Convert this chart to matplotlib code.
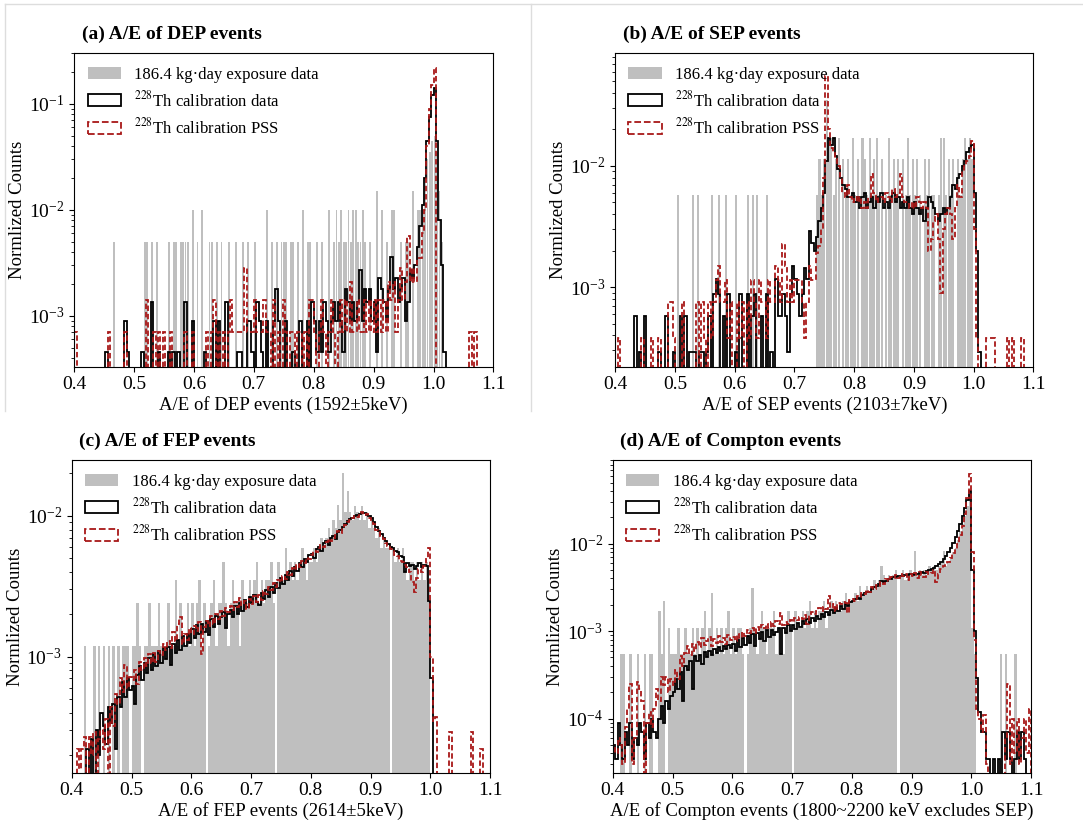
import numpy as np
import matplotlib
matplotlib.use("Agg")
import matplotlib.pyplot as plt
from matplotlib.patches import Patch
from matplotlib.lines import Line2D
from matplotlib.ticker import FormatStrFormatter, MultipleLocator

plt.rcParams['font.family'] = ['Liberation Serif', 'DejaVu Serif']
plt.rcParams['mathtext.fontset'] = 'stix'

# A/E bins from 0.4 to 1.1, width 0.004 (175 bins, one row = 0.1 in A/E)
edges = np.linspace(0.4, 1.1, 176)

# all counts below in units of 1e-4 (normalized counts per bin)
# ---- (a) DEP ----
dep_data = [
    0, 0, 0, 0, 0, 0, 0, 0, 0, 0, 0, 0, 0, 0, 0, 0, 50, 0, 0, 0, 0, 0, 0, 0, 0,
    0, 0, 0, 0, 50, 50, 0, 50, 0, 50, 0, 0, 0, 0, 50, 0, 50, 50, 0, 50, 50, 50, 50, 0, 100,
    0, 50, 0, 100, 0, 0, 50, 50, 0, 50, 0, 50, 0, 0, 50, 0, 0, 50, 0, 0, 50, 0, 50, 0, 0,
    50, 0, 0, 0, 0, 100, 0, 50, 0, 50, 0, 50, 50, 50, 0, 50, 50, 0, 50, 0, 100, 0, 50, 50, 0,
    0, 50, 0, 50, 0, 0, 100, 0, 50, 100, 50, 100, 50, 50, 100, 50, 100, 100, 50, 50, 100, 50, 0, 50, 0,
    0, 150, 0, 100, 0, 50, 0, 100, 100, 0, 0, 50, 0, 50, 50, 0, 150, 0, 100, 100, 100, 200, 300, 350, 450,
    500, 350, 150, 50, 0, 0, 0, 0, 0, 0, 0, 0, 0, 0, 0, 0, 0, 0, 0, 0, 0, 0, 0, 0, 0,
]
dep_cal = [
    0, 0, 0, 0, 0, 0, 0, 0, 0, 0, 0, 0, 0, 4.5, 0, 0, 0, 0, 0, 0, 0, 9, 4.5, 0, 0,
    0, 0, 0, 4.5, 0, 0, 0, 13.5, 0, 0, 4.5, 0, 0, 0, 4.5, 0, 4.5, 0, 4.5, 0, 0, 13.5, 0, 0, 9,
    0, 0, 0, 0, 4.5, 0, 0, 0, 9, 0, 9, 0, 0, 13.5, 0, 0, 0, 0, 4.5, 4.5, 0, 0, 9, 9, 4.5,
    0, 13.5, 9, 4.5, 0, 9, 0, 0, 9, 18, 9, 0, 0, 9, 0, 0, 4.5, 0, 0, 9, 0, 0, 9, 0, 13.5,
    9, 4.5, 9, 4.5, 13.5, 9, 4.5, 9, 13.5, 9, 13.5, 9, 4.5, 18, 13.5, 9, 13.5, 9, 13.5, 27, 9, 18, 13.5, 18, 9,
    13.5, 4.5, 22.5, 18, 13.5, 9, 18, 36, 18, 22.5, 13.5, 18, 22.5, 9, 13.5, 27, 22.5, 30, 45, 70, 110, 200, 450, 750, 1200,
    1400, 450, 80, 30, 4.5, 0, 0, 0, 0, 0, 0, 0, 0, 0, 0, 0, 0, 0, 0, 0, 0, 0, 0, 0, 0,
]
dep_pss = [
    7, 0, 0, 0, 0, 0, 0, 0, 0, 0, 0, 0, 0, 0, 7, 0, 0, 0, 0, 0, 0, 7, 0, 0, 0,
    0, 0, 0, 0, 0, 14, 0, 0, 7, 0, 7, 0, 7, 0, 0, 7, 0, 0, 0, 0, 0, 7, 0, 0, 7,
    0, 0, 0, 0, 0, 7, 0, 7, 14, 0, 7, 0, 7, 0, 7, 14, 7, 7, 7, 7, 7, 28, 7, 7, 7,
    14, 7, 7, 7, 14, 7, 7, 0, 14, 0, 7, 0, 14, 7, 0, 7, 7, 0, 7, 7, 0, 7, 0, 14, 14,
    7, 0, 7, 14, 7, 0, 7, 14, 7, 0, 7, 14, 7, 14, 7, 21, 7, 7, 14, 7, 7, 14, 7, 14, 7,
    14, 7, 14, 7, 14, 7, 21, 14, 21, 7, 14, 28, 14, 21, 56, 21, 28, 21, 35, 35, 60, 100, 400, 900, 1500,
    2200, 0, 0, 0, 0, 0, 0, 0, 0, 0, 0, 0, 0, 0, 0, 7, 0, 7, 0, 0, 0, 0, 0, 0, 0,
]

# ---- (b) SEP ----
sep_data = [
    0, 0, 0, 0, 0, 0, 0, 0, 0, 0, 0, 0, 0, 0, 0, 0, 0, 0, 0, 0, 0, 0, 0, 0, 0,
    0, 57, 0, 0, 0, 0, 0, 57, 0, 57, 0, 0, 0, 0, 0, 57, 0, 0, 57, 0, 0, 57, 0, 0, 0,
    57, 0, 0, 0, 0, 57, 0, 57, 0, 57, 0, 0, 0, 57, 0, 0, 0, 0, 0, 0, 0, 0, 0, 0, 0,
    0, 0, 0, 0, 0, 0, 0, 0, 0, 57, 114, 57, 114, 350, 171, 171, 57, 114, 171, 0, 114, 57, 114, 57, 171,
    57, 114, 0, 171, 114, 57, 171, 57, 114, 171, 57, 114, 0, 57, 171, 57, 114, 57, 114, 0, 114, 57, 171, 57, 114,
    57, 114, 57, 0, 114, 57, 114, 57, 57, 0, 57, 171, 171, 57, 114, 57, 114, 0, 114, 57, 114, 171, 114, 171, 114,
    0, 0, 0, 0, 0, 0, 0, 0, 0, 0, 0, 0, 0, 0, 0, 0, 0, 0, 0, 0, 0, 0, 0, 0, 0,
]
sep_cal = [
    0, 0, 0, 0, 0, 0, 0, 0, 5.8, 0, 2.9, 0, 5.8, 0, 0, 0, 0, 0, 2.9, 0, 0, 5.8, 0, 0, 2.9,
    0, 0, 5.8, 0, 5.8, 0, 2.9, 2.9, 2.9, 0, 2.9, 2.9, 0, 2.9, 5.8, 0, 8.7, 11.6, 8.7, 0, 5.8, 0, 8.7, 0, 0,
    2.9, 0, 8.7, 0, 0, 8.7, 0, 5.8, 8.7, 0, 0, 5.8, 0, 8.7, 0, 2.9, 0, 11.6, 5.8, 5.8, 8.7, 5.8, 2.9, 8.7, 15,
    11.6, 8.7, 5.8, 8.7, 14.5, 11.6, 29, 23, 20, 26, 35, 45, 60, 110, 170, 150, 170, 120, 95, 80, 70, 65, 55, 55, 60,
    50, 55, 45, 55, 60, 45, 50, 55, 45, 55, 50, 60, 45, 50, 45, 55, 60, 50, 55, 45, 50, 45, 55, 45, 40,
    50, 45, 40, 45, 35, 45, 55, 50, 45, 40, 35, 40, 45, 40, 45, 55, 70, 65, 80, 85, 100, 110, 130, 140, 150,
    60, 20, 2.9, 0, 0, 0, 0, 0, 0, 0, 0, 0, 0, 0, 0, 0, 0, 0, 0, 0, 0, 0, 0, 0, 0,
]
sep_pss = [
    0, 3.8, 0, 0, 0, 0, 0, 0, 0, 0, 0, 3.8, 0, 0, 0, 3.8, 0, 0, 3.8, 0, 0, 0, 7.6, 7.6, 3.8,
    0, 0, 0, 7.6, 0, 0, 0, 0, 0, 7.6, 0, 7.6, 3.8, 0, 7.6, 3.8, 7.6, 11.4, 15, 7.6, 7.6, 11.4, 3.8, 7.6, 0,
    0, 7.6, 3.8, 7.6, 0, 7.6, 3.8, 11.4, 7.6, 3.8, 11.4, 7.6, 7.6, 3.8, 11.4, 7.6, 7.6, 15, 11.4, 7.6, 22.8, 15, 7.6, 11.4, 7.6,
    11.4, 11.4, 11.4, 7.6, 3.8, 7.6, 15, 11.4, 11.4, 19, 22, 30, 80, 550, 200, 140, 130, 115, 100, 80, 60, 55, 70, 55, 50,
    55, 50, 55, 45, 50, 45, 55, 85, 60, 50, 55, 55, 50, 60, 55, 50, 65, 55, 60, 85, 55, 50, 50, 45, 50,
    45, 55, 50, 45, 50, 45, 20, 25, 35, 40, 25, 9, 30, 40, 45, 40, 25, 45, 70, 55, 90, 100, 110, 120, 160,
    30, 3.8, 0, 0, 0, 3.8, 3.8, 3.8, 3.8, 0, 0, 0, 0, 0, 3.8, 0, 3.8, 0, 0, 0, 3.8, 0, 0, 0, 0,
]

# ---- (c) FEP ----
fep_data = [
    0, 0, 0, 0, 0, 12, 0, 0, 0, 12, 0, 12, 0, 12, 0, 12, 0, 12, 0, 12, 0, 12, 12, 12, 0,
    12, 12, 24, 12, 0, 12, 12, 24, 12, 12, 12, 24, 12, 12, 12, 24, 12, 12, 35, 12, 24, 12, 12, 24, 12,
    24, 12, 24, 35, 12, 24, 0, 12, 24, 35, 12, 24, 24, 47, 24, 12, 24, 35, 24, 24, 12, 35, 24, 24, 35,
    24, 35, 47, 24, 35, 24, 35, 35, 47, 24, 0, 47, 35, 35, 59, 35, 47, 35, 47, 35, 47, 59, 47, 35, 47,
    47, 59, 47, 59, 70, 59, 70, 82, 70, 94, 82, 120, 94, 200, 106, 150, 106, 94, 118, 106, 94, 118, 94, 106, 82,
    94, 82, 70, 82, 59, 70, 59, 59, 0, 59, 47, 59, 47, 59, 47, 35, 47, 47, 35, 47, 35, 47, 35, 47, 35,
    0, 0, 0, 0, 0, 0, 0, 0, 0, 0, 0, 0, 0, 0, 0, 0, 0, 0, 0, 0, 0, 0, 0, 0, 0,
]
fep_cal = [
    0, 0, 0, 0, 0, 0, 2.2, 1.2, 2.6, 1.3, 3.0, 2.0, 4.0, 3.2, 2.4, 4.4, 3.4, 4.6, 2.2, 5.2, 4.4, 6.6, 5.2, 7.0, 5.8,
    6.2, 4.6, 7.4, 8.6, 6.8, 9.0, 7.6, 9.8, 8.0, 10.4, 8.6, 11.0, 9.0, 11.6, 9.6, 11.8, 8.8, 12.4, 10.6, 13.2, 11.2, 14.0, 12.0, 14.6, 12.6,
    15.8, 13.6, 16.8, 14.6, 17.2, 15.0, 17.8, 14.2, 18.6, 16.2, 19.4, 17.0, 19.0, 20.8, 16.0, 20.2, 21.6, 19.0, 22.8, 20.2, 24.2, 21.0, 25.4, 22.6, 26.4,
    24.0, 27.4, 24.6, 23.4, 28.2, 25.8, 29.8, 26.6, 31.4, 28.4, 33.4, 30.8, 36.0, 32.6, 38.2, 35.2, 40.8, 37.2, 43.6, 40.6, 46.6, 43.2, 49.6, 46.8, 52.6,
    54, 50, 58, 60, 56, 64, 66, 62, 70, 72, 68, 77, 80, 84, 88, 92, 95, 97, 99, 101, 103, 105, 104, 102, 99,
    96, 90, 84, 78, 74, 70, 66, 63, 60, 59, 56, 55, 52, 51, 40, 46, 44, 45, 42, 44, 46, 43, 45, 44, 25,
    7, 0, 0, 0, 0, 0, 0, 0, 0, 0, 0, 0, 0, 0, 0, 0, 0, 0, 0, 0, 0, 0, 0, 0, 0,
]
fep_pss = [
    0, 0, 2.2, 1.6, 2.2, 2.7, 1.4, 2.7, 2.0, 2.9, 1.4, 2.6, 3.0, 2.2, 3.6, 1.2, 4.4, 3.2, 5.4, 4.6, 7.0, 5.6, 8.7, 6.0, 7.2,
    6.8, 8.0, 6.4, 9.2, 8.0, 9.8, 8.6, 10.4, 9.0, 10.6, 9.2, 11.0, 10.2, 12.4, 11.2, 13.0, 11.6, 15.0, 13.0, 17.0, 19.0, 12.4, 14.6, 13.2, 16.0,
    14.4, 16.6, 15.2, 17.6, 10.5, 16.2, 18.0, 16.6, 19.4, 17.0, 20.0, 18.4, 21.2, 19.6, 22.2, 20.6, 23.0, 21.4, 24.4, 22.6, 26.0, 23.4, 25.0, 21.8, 25.6,
    23.6, 26.8, 24.6, 27.6, 25.4, 29.2, 27.8, 31.4, 29.6, 33.4, 31.0, 35.2, 33.8, 37.6, 35.6, 39.8, 38.2, 42.6, 41.0, 45.4, 43.6, 48.0, 46.2, 50.4, 49.0,
    53, 56, 55, 59, 62, 60, 65, 68, 66, 70, 73, 78, 76, 82, 86, 90, 94, 96, 100, 98, 104, 106, 101, 103, 97,
    93, 88, 80, 77, 72, 68, 64, 61, 58, 56, 53, 52, 48, 47, 45, 43, 40, 34, 29, 36, 42, 40, 44, 50, 59,
    10, 3.5, 3.7, 0, 0, 0, 0, 0, 2.9, 0, 0, 0, 0, 0, 0, 0, 0, 2.9, 0, 0, 0, 2.2, 0, 0, 0,
]

# ---- (d) Compton ----
compton_data = [
    0, 0, 0, 5.5, 5.5, 0, 0, 5.5, 0, 0, 5.5, 0, 0, 5.5, 0, 5.5, 5.5, 0, 0, 17, 5.5, 22, 0, 11, 5.5,
    5.5, 5.5, 11, 5.5, 5.5, 11, 5.5, 5.5, 11, 5.5, 11, 5.5, 11, 17, 5.5, 11, 27, 5.5, 11, 5.5, 11, 5.5, 11, 17, 5.5,
    11, 5.5, 11, 11, 5.5, 0, 5.5, 11, 31, 11, 5.5, 11, 17, 11, 5.5, 11, 11, 17, 5.5, 11, 11, 5.5, 11, 17, 11,
    0, 17, 11, 11, 17, 11, 17, 22, 11, 17, 11, 17, 17, 22, 11, 17, 22, 17, 22, 17, 17, 22, 27, 17, 22,
    22, 27, 22, 33, 27, 27, 33, 27, 33, 38, 33, 38, 55, 44, 38, 44, 38, 44, 50, 0, 44, 50, 38, 44, 50,
    44, 82, 44, 50, 44, 50, 44, 55, 50, 55, 50, 55, 60, 82, 55, 62, 70, 80, 90, 110, 140, 170, 210, 270, 400,
    11, 5.5, 0, 0, 0, 0, 0, 0, 0, 0, 0, 0, 5.5, 0, 5.5, 0, 0, 0, 5.5, 0, 0, 0, 0, 0, 0,
]
compton_cal = [
    0.5, 0.34, 0.9, 0.5, 0.34, 0.7, 0.5, 0.9, 0.34, 0.6, 0.5, 0.9, 0.7, 0.34, 0.9, 0.6, 1.0, 0.7, 0.6, 1.0, 1.4, 0.9, 1.6, 1.3, 1.8,
    2.0, 2.8, 2.2, 3.4, 1.6, 4.0, 3.6, 4.6, 2.2, 5.2, 4.6, 5.4, 4.2, 5.8, 5.0, 6.0, 5.4, 6.2, 5.6, 6.6, 6.0, 6.8, 6.2, 7.0, 6.4,
    7.2, 6.0, 8.0, 6.6, 8.4, 7.0, 8.8, 7.4, 9.2, 6.8, 9.4, 8.2, 9.8, 7.8, 10.2, 8.6, 10.4, 9.0, 9.8, 10.8, 5.5, 11.0, 9.4, 11.6, 10.0,
    11.8, 10.6, 12.4, 11.2, 13.0, 12.0, 13.8, 12.4, 14.2, 13.2, 15.0, 13.6, 15.8, 14.6, 16.6, 15.2, 17.4, 16.0, 18.4, 16.8, 19.4, 18.0, 20.4, 19.2, 21.6,
    22.4, 23.2, 24.0, 23.6, 26.0, 27.0, 28.2, 27.8, 30.6, 31.8, 33.0, 34.2, 37.0, 36.6, 37.8, 39.0, 39.6, 41.2, 42.0, 42.6, 43.2, 42.4, 44.0, 44.4, 44.6,
    44.0, 45.6, 45.0, 46.4, 47.0, 46.6, 48.4, 49.6, 51.0, 53.0, 55.0, 58.0, 62.0, 67.0, 73.0, 80.0, 90.0, 102, 118, 140, 168, 205, 255, 320, 400,
    50, 10, 2.9, 1.2, 0.7, 0.7, 0.34, 0.34, 0.2, 0.34, 0.2, 0.34, 0.2, 0.7, 0.34, 0.7, 0.34, 0.2, 0.34, 0.7, 0.34, 0.7, 0.34, 0.2, 0.2,
]
compton_pss = [
    0.5, 0.4, 0.6, 0.5, 0.3, 0.8, 1.3, 2.5, 0.3, 0.6, 2.6, 2.2, 1.6, 0.2, 0.9, 1.2, 0.8, 1.3, 2.2, 1.6, 3.0, 2.4, 3.0, 2.0, 2.8,
    2.4, 3.6, 2.8, 5.2, 4.0, 5.6, 6.8, 5.4, 7.2, 6.0, 7.6, 6.6, 8.4, 7.0, 7.8, 8.6, 6.8, 8.2, 7.4, 8.8, 7.6, 8.4, 7.2, 9.0, 8.0,
    8.6, 7.8, 9.2, 8.4, 9.8, 8.8, 10.2, 9.4, 10.8, 9.6, 11.2, 10.2, 11.6, 10.8, 12.0, 11.0, 12.6, 11.4, 13.2, 12.0, 16.0, 11.6, 12.8, 12.2, 13.4,
    12.8, 14.0, 13.4, 14.6, 13.8, 15.2, 12.0, 15.8, 16.4, 15.6, 17.0, 18.4, 17.2, 18.8, 18.0, 25.0, 18.6, 20.4, 17.0, 21.0, 20.2, 21.8, 21.0, 16.0, 23.0,
    23.6, 22.0, 25.4, 24.6, 27.0, 26.4, 29.2, 28.0, 31.6, 30.4, 34.0, 32.6, 36.8, 35.0, 39.4, 37.4, 42.0, 40.0, 43.6, 41.0, 45.0, 42.4, 44.6, 38.0, 45.2,
    43.0, 46.0, 41.0, 47.0, 44.0, 42.0, 48.0, 45.0, 46.0, 50.0, 36.0, 45.0, 52.0, 55.0, 58.0, 62.0, 68.0, 78.0, 88.0, 100, 125, 160, 220, 330, 620,
    80, 8, 1.3, 1.0, 0.7, 1.1, 0.3, 0.2, 0.2, 0.2, 0.2, 0.2, 0.2, 0.2, 0.6, 2.5, 0.3, 1.0, 0.4, 1.0, 0.3, 0.6, 1.0, 0.4, 1.3,
]

titles = ['(a) A/E of DEP events', '(b) A/E of SEP events',
          '(c) A/E of FEP events', '(d) A/E of Compton events']
xlabels = ['A/E of DEP events (1592±5keV)', 'A/E of SEP events (2103±7keV)',
           'A/E of FEP events (2614±5keV)',
           'A/E of Compton events (1800~2200 keV excludes SEP)']
legend_labels = ['186.4 kg·day exposure data',
                 r'$^{228}$Th calibration data',
                 r'$^{228}$Th calibration PSS']

GRAY = '#bfbfbf'
RED = '#a81818'

fig = plt.figure(figsize=(10.83, 8.23), dpi=100)

# light screenshot frame around the first panel
fig.add_artist(Line2D([5 / 1083, 1], [1 - 4 / 823, 1 - 4 / 823], color='#dddddd', lw=1))
fig.add_artist(Line2D([531 / 1083, 531 / 1083], [1 - 4 / 823, 1 - 411 / 823], color='#dddddd', lw=1))
fig.add_artist(Line2D([5 / 1083, 5 / 1083], [1 - 4 / 823, 1 - 411 / 823], color='#dddddd', lw=1))

panels = [
    (dep_data, dep_cal, dep_pss, (3.3e-4, 0.30), [0.0685, 0.5544, 0.3871, 0.3808], 0.75),
    (sep_data, sep_cal, sep_pss, (2.2e-4, 0.085), [0.5680, 0.5544, 0.3862, 0.3808], 0.85),
    (fep_data, fep_cal, fep_pss, (1.5e-4, 0.0248), [0.0663, 0.0611, 0.3862, 0.3796], 1.0),
    (compton_data, compton_cal, compton_pss, (2.4e-5, 0.09), [0.5658, 0.0611, 0.3862, 0.3796], 1.0),
]

bw = edges[1] - edges[0]
for i, (data, cal, pss, ylim, rect, frac) in enumerate(panels):
    ax = fig.add_axes(rect)
    ax.set_yscale('log')

    d = np.array(data) * 1e-4
    m = d > 0
    ax.bar(edges[:-1][m] + bw * (1 - frac) / 2, d[m], width=bw * frac, bottom=1e-9,
           align='edge', color=GRAY, linewidth=0)

    c = np.array(cal) * 1e-4
    ax.stairs(np.where(c > 0, c, 1e-9), edges, color='black', lw=1.3)
    p = np.array(pss) * 1e-4
    ax.stairs(np.where(p > 0, p, 1e-9), edges, color=RED, lw=1.3,
              linestyle=(0, (3, 1.6)))

    ax.set_xlim(0.4, 1.1)
    ax.set_ylim(*ylim)
    ax.xaxis.set_major_locator(MultipleLocator(0.1))
    ax.xaxis.set_major_formatter(FormatStrFormatter('%.1f'))
    ax.tick_params(labelsize=14)
    ax.set_xlabel(xlabels[i], fontsize=13.5, labelpad=2)
    ax.set_ylabel('Normlized Counts', fontsize=13.5, labelpad=2)
    ax.text(0.018, 1.045, titles[i], transform=ax.transAxes, fontsize=14,
            fontweight='bold', va='baseline', ha='left')

    handles = [
        Patch(facecolor=GRAY, edgecolor='none', label=legend_labels[0]),
        Patch(facecolor='none', edgecolor='black', lw=1.3, label=legend_labels[1]),
        Patch(facecolor='none', edgecolor=RED, lw=1.3, linestyle='--', label=legend_labels[2]),
    ]
    ax.legend(handles=handles, loc='upper left', frameon=False, fontsize=12,
              handlelength=2.0, handleheight=0.75, borderaxespad=0.4,
              labelspacing=0.45, handletextpad=0.8)

fig.savefig('out.png', dpi=100)
